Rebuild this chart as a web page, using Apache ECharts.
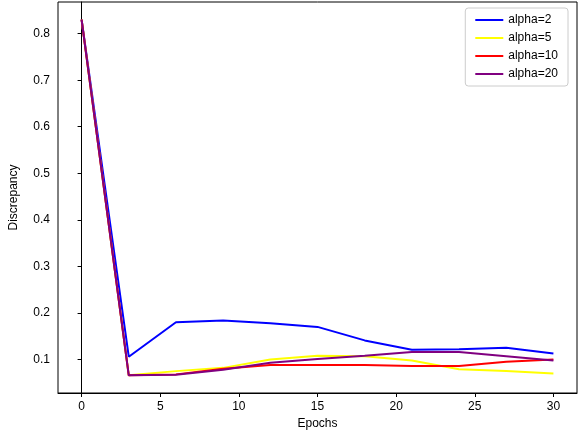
<!DOCTYPE html><html><head><meta charset="utf-8"><script src="https://cdn.jsdelivr.net/npm/echarts@6/dist/echarts.min.js"></script></head><body style="margin:0"><div id="c" style="width:580px;height:440px"></div><script>
const epochs=[0,3,6,9,12,15,18,21,24,27,30];
const a2=[0.83,0.106,0.180,0.184,0.178,0.170,0.141,0.121,0.122,0.125,0.113];
const a5=[0.83,0.066,0.075,0.082,0.100,0.108,0.107,0.098,0.079,0.075,0.070];
const a10=[0.83,0.066,0.068,0.080,0.088,0.088,0.088,0.086,0.086,0.095,0.100];
const a20=[0.83,0.066,0.067,0.078,0.093,0.101,0.108,0.116,0.116,0.107,0.098];
const xTicks=[0,5,10,15,20,25,30];
const yTicks=[0.1,0.2,0.3,0.4,0.5,0.6,0.7,0.8];
const names=['alpha=2','alpha=5','alpha=10','alpha=20'];
const colors=['#0000ff','#ffff00','#ff0000','#800080'];
const F='Liberation Sans';
const ser=[a2,a5,a10,a20].map((d,i)=>({name:names[i],type:'line',data:d.map((v,j)=>[epochs[j],v]),showSymbol:false,lineStyle:{width:2,color:colors[i]},itemStyle:{color:colors[i]}}));
const line={lineStyle:{color:'#000'}};
echarts.init(document.getElementById('c')).setOption({animation:false,
grid:{left:53,right:3,top:2,bottom:47,show:true,borderColor:'#000',borderWidth:1},
legend:{right:12,top:8,orient:'vertical',backgroundColor:'#fff',borderColor:'#ccc',borderWidth:1,borderRadius:3,padding:[6,10],itemGap:6,itemWidth:28,itemHeight:2,icon:'rect',textStyle:{fontFamily:F,fontSize:12,color:'#000'},data:names},
xAxis:{type:'value',min:-1.5,max:31.5,name:'Epochs',nameLocation:'middle',nameGap:24,nameTextStyle:{color:'#000',fontFamily:F,fontSize:12},axisLine:line,splitLine:{show:false},
 axisTick:{customValues:xTicks,length:4,lineStyle:{color:'#000'}},axisLabel:{customValues:xTicks,color:'#000',fontFamily:F,fontSize:12}},
yAxis:{type:'value',min:0.028,max:0.868,name:'Discrepancy',nameLocation:'middle',nameGap:38,nameTextStyle:{color:'#000',fontFamily:F,fontSize:12},axisLine:{show:true,lineStyle:{color:'#000'}},splitLine:{show:false},
 axisTick:{show:true,customValues:yTicks,length:4,lineStyle:{color:'#000'}},axisLabel:{customValues:yTicks,color:'#000',fontFamily:F,fontSize:12,formatter:v=>v.toFixed(1)}},
series:ser});
</script></body></html>
